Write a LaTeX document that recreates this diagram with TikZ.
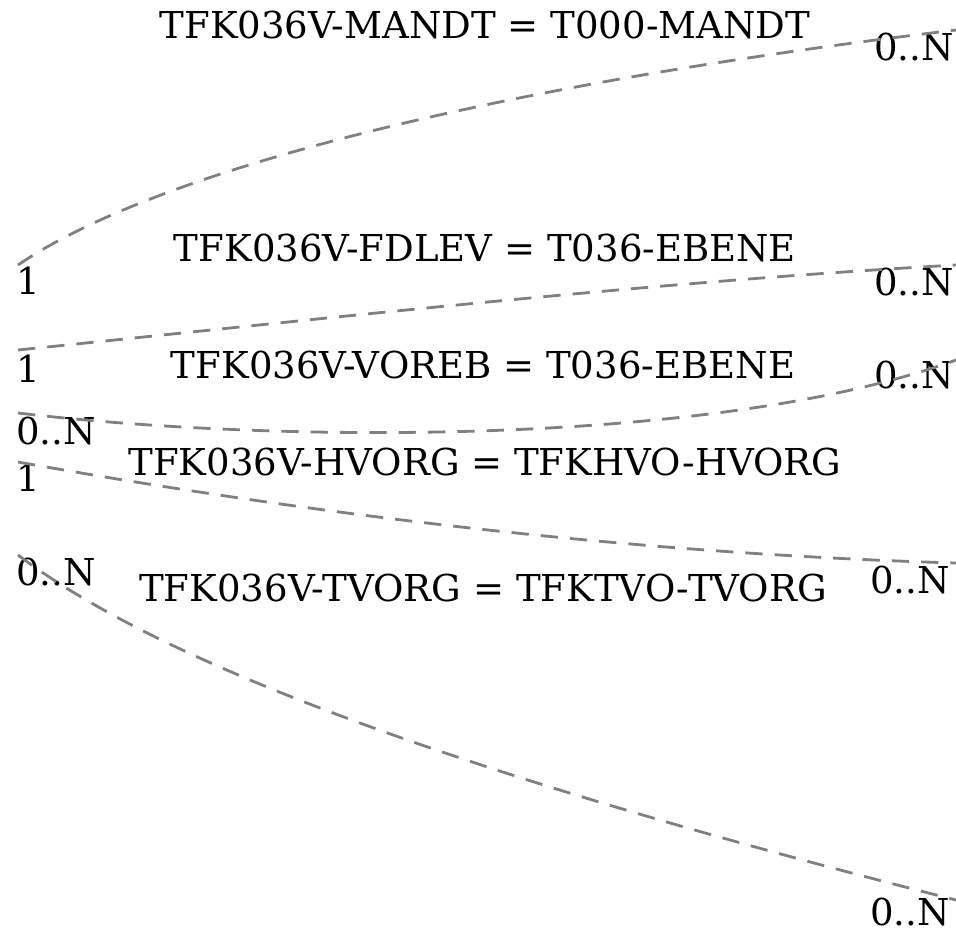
\documentclass[tikz,border=0pt]{standalone}
\usepackage{fontspec}
\setmainfont{DejaVu Serif}
\usetikzlibrary{positioning}

\begin{document}
\begin{tikzpicture}[x=0.75pt, y=-0.75pt,
  rel/.style={gray, line width=2.1pt, dash pattern=on 13pt off 9pt},
  card/.style={inner sep=0pt, font=\fontsize{27.8}{33}\selectfont},
  rname/.style={inner sep=0pt, font=\fontsize{27.8}{33}\selectfont}]
  \useasboundingbox (0,0) rectangle (956,935);

  % end points of the relations
  \coordinate (mandtL) at (18,265);  \coordinate (mandtR) at (956,30);
  \coordinate (fdlevL) at (18,350);  \coordinate (fdlevR) at (956,265);
  \coordinate (vorebL) at (18,413);  \coordinate (vorebR) at (956,360);
  \coordinate (hvorgL) at (18,462);  \coordinate (hvorgR) at (956,563);
  \coordinate (tvorgL) at (18,555);  \coordinate (tvorgR) at (956,900);

  % relation names
  \node[rname] (mandt) at (485,25)  {TFK036V-MANDT = T000-MANDT};
  \node[rname] (fdlev) at (485,248) {TFK036V-FDLEV = T036-EBENE};
  \node[rname] (voreb) at (483,365) {TFK036V-VOREB = T036-EBENE};
  \node[rname] (hvorg) at (485,462) {TFK036V-HVORG = TFKHVO-HVORG};
  \node[rname] (tvorg) at (483,588) {TFK036V-TVORG = TFKTVO-TVORG};

  % cardinalities
  \node[card] (mandtA) at (28,281)  {1};
  \node[card] (mandtB) at (914,47)  {0..N};
  \node[card] (fdlevA) at (28,369)  {1};
  \node[card] (fdlevB) at (914,282) {0..N};
  \node[card] (vorebA) at (56,431)  {0..N};
  \node[card] (vorebB) at (914,375) {0..N};
  \node[card] (hvorgA) at (28,478)  {1};
  \node[card] (hvorgB) at (910,580) {0..N};
  \node[card] (tvorgA) at (56,572)  {0..N};
  \node[card] (tvorgB) at (910,912) {0..N};

  \draw[rel] (mandtL) .. controls (150,175) and (469,88) .. (mandtR);
  \draw[rel] (fdlevL) .. controls (330,318) and (650,282) .. (fdlevR);
  \draw[rel] (vorebL) .. controls (280,444) and (720,446) .. (vorebR);
  \draw[rel] (hvorgL) .. controls (366,524) and (679,555) .. (hvorgR);
  \draw[rel] (tvorgL) .. controls (170,670) and (490,782) .. (tvorgR);
\end{tikzpicture}
\end{document}
